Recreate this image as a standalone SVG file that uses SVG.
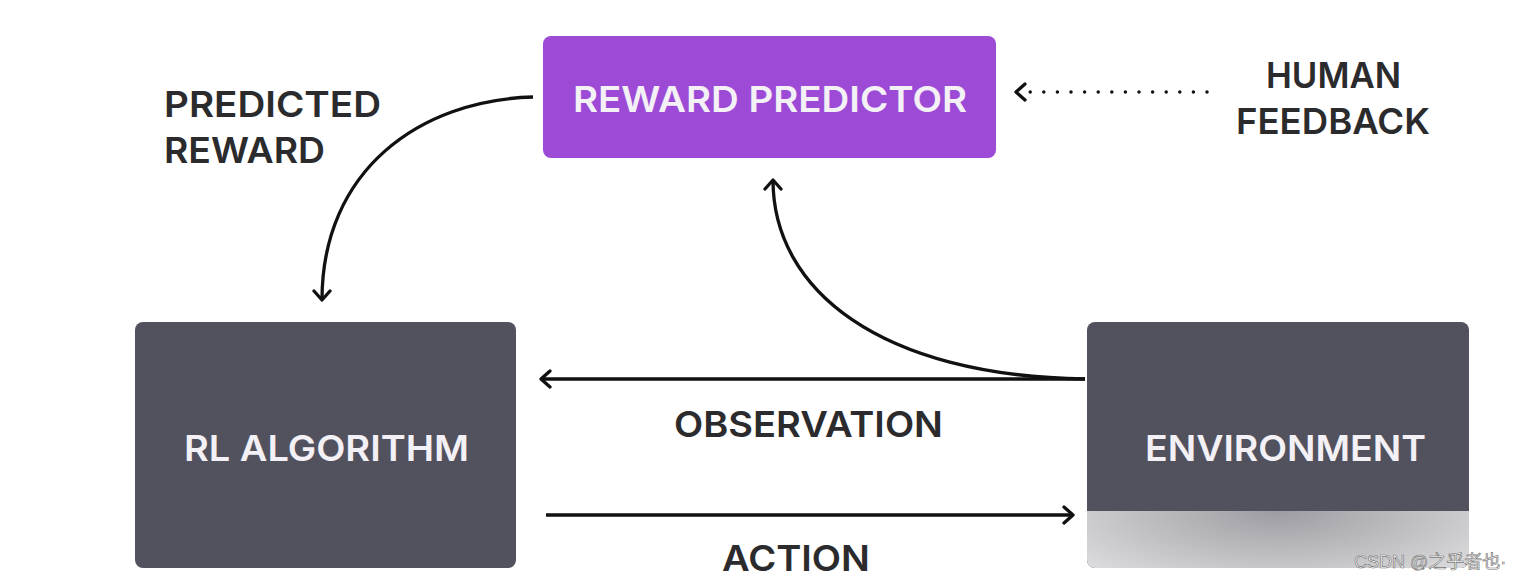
<svg xmlns="http://www.w3.org/2000/svg" width="1520" height="580" viewBox="0 0 1520 580">
<style>
.lbl{font-family:Inter,"Liberation Sans",sans-serif;font-weight:600;font-size:36px;fill:#2b2b2d}
.nt{font-family:Inter,"Liberation Sans",sans-serif;font-weight:600;font-size:36px;fill:#f3f0f6}
.dark{fill:#52525f}
.ln{fill:none;stroke:#111;stroke-width:3.3}
.wm{font-family:"Liberation Sans","Noto Sans CJK SC",sans-serif;font-size:18px;fill:#ffffff;stroke:#7a7a7a;stroke-width:0.7}
</style>
<defs>
<marker id="ah" viewBox="-12 -10 14 20" markerWidth="14" markerHeight="20" refX="0" refY="0" orient="auto" markerUnits="userSpaceOnUse">
<path d="M-9,-8 L0,0 L-9,8" fill="none" stroke="#111" stroke-width="3.3" stroke-linecap="round" stroke-linejoin="round"/>
</marker>
<radialGradient id="fade" cx="0.5" cy="0" r="0.75" gradientTransform="matrix(1 0 0 2.2 0 0)">
<stop offset="0" stop-color="#9c9ca2"/>
<stop offset="1" stop-color="#e4e4e6"/>
</radialGradient>
</defs>
<rect width="1520" height="580" fill="#ffffff"/>
<g id="connectors">
<path class="ln" d="M533,97 C420,100 322,170 322,300" marker-end="url(#ah)"/>
<path class="ln" d="M1085,379 C880,376 773,290 773,180" marker-end="url(#ah)"/>
<path class="ln" d="M1085,379 L541,379" marker-end="url(#ah)"/>
<path class="ln" d="M546,515 L1073,515" marker-end="url(#ah)"/>
<path d="M1207,92 L1030,92" fill="none" stroke="#111" stroke-width="3.5" stroke-linecap="round" stroke-dasharray="0 13.6"/>
<path d="M1025,84 L1016,92 L1025,100" fill="none" stroke="#111" stroke-width="3.3" stroke-linecap="round" stroke-linejoin="round"/>
</g>
<g id="reward-predictor">
<rect x="543" y="36" width="453" height="122" rx="8" fill="#9d4bd6"/>
<text class="nt" x="573" y="112" textLength="394" lengthAdjust="spacingAndGlyphs">REWARD PREDICTOR</text>
</g>
<g id="rl-algorithm">
<rect class="dark" x="135" y="322" width="381" height="246" rx="8"/>
<text class="nt" x="184" y="461" textLength="285" lengthAdjust="spacingAndGlyphs">RL ALGORITHM</text>
</g>
<g id="environment">
<rect class="dark" x="1087" y="322" width="382" height="246" rx="8"/>
<text class="nt" x="1145" y="461" textLength="281" lengthAdjust="spacingAndGlyphs">ENVIRONMENT</text>
<path d="M1087,511 H1469 V560 a8,8 0 0 1 -8,8 H1095 a8,8 0 0 1 -8,-8 Z" fill="url(#fade)"/>
</g>
<g id="labels">
<text class="lbl" x="164" y="117" textLength="217" lengthAdjust="spacingAndGlyphs">PREDICTED</text>
<text class="lbl" x="164" y="163" textLength="161" lengthAdjust="spacingAndGlyphs">REWARD</text>
<text class="lbl" x="1266" y="88" textLength="135" lengthAdjust="spacingAndGlyphs">HUMAN</text>
<text class="lbl" x="1236" y="134" textLength="194" lengthAdjust="spacingAndGlyphs">FEEDBACK</text>
<text class="lbl" x="674" y="437" textLength="269" lengthAdjust="spacingAndGlyphs">OBSERVATION</text>
<text class="lbl" x="722" y="571" textLength="148" lengthAdjust="spacingAndGlyphs">ACTION</text>
</g>
<text class="wm" x="1354" y="568">CSDN @之乎者也·</text>
</svg>
